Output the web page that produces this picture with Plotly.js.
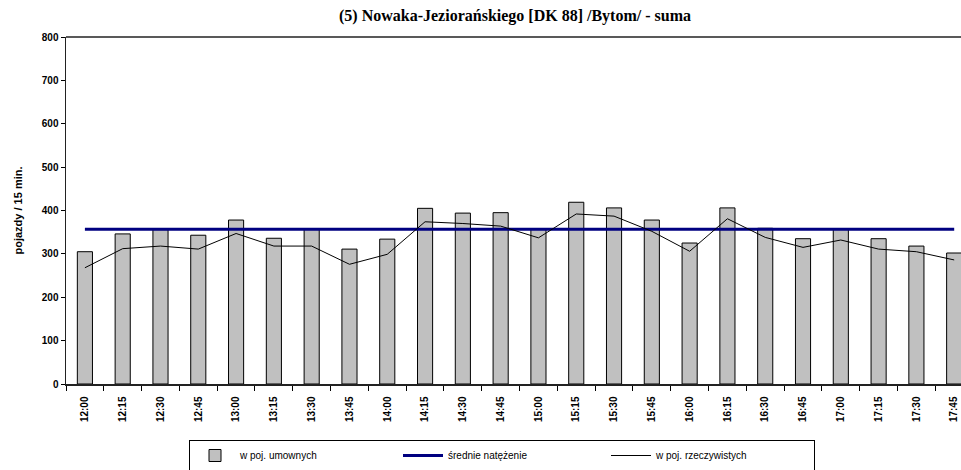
<!DOCTYPE html>
<html>
<head>
<meta charset="utf-8">
<script src="https://cdn.plot.ly/plotly-3.0.1.min.js"></script>
<style>html,body{margin:0;padding:0;background:#fff;}#chart{width:961px;height:470px;}</style>
</head>
<body>
<div id="chart"></div>
<script>
const categories = ["12:00","12:15","12:30","12:45","13:00","13:15","13:30","13:45","14:00","14:15","14:30","14:45","15:00","15:15","15:30","15:45","16:00","16:15","16:30","16:45","17:00","17:15","17:30","17:45"];
const umownych = [305,346,356,343,378,336,357,311,334,405,394,395,358,419,406,378,325,406,359,335,358,335,318,302];
const srednie = [357,357,357,357,357,357,357,357,357,357,357,357,357,357,357,357,357,357,357,357,357,357,357,357];
const rzeczywistych = [268,312,318,311,347,318,318,276,299,374,370,364,337,392,387,352,306,381,338,315,332,311,305,286];

const traces = [
  {type:'bar', x:categories, y:umownych, name:'w poj. umownych',
   marker:{color:'#c0c0c0', line:{color:'#000', width:1}}},
  {type:'scatter', mode:'lines', x:categories, y:srednie, name:'średnie natężenie',
   line:{color:'#000080', width:3}},
  {type:'scatter', mode:'lines', x:categories, y:rzeczywistych, name:'w poj. rzeczywistych',
   line:{color:'#000', width:1}}
];

const layout = {
  width:961, height:470,
  margin:{l:66, r:0, t:37, b:86},
  paper_bgcolor:'#fff', plot_bgcolor:'#fff',
  font:{family:'"Liberation Sans", Arial, sans-serif', color:'#000'},
  title:{text:'<b>(5) Nowaka-Jeziorańskiego [DK 88] /Bytom/ - suma</b>',
    font:{family:'"Liberation Serif", "Times New Roman", serif', size:16, color:'#000'},
    x:515/961, xanchor:'center', xref:'container', y:0.968, yanchor:'middle', yref:'container'},
  bargap:0.6,
  showlegend:true,
  shapes:[{type:'line', xref:'paper', yref:'paper', x0:0, x1:1, y0:1, y1:1,
    line:{color:'#222', width:1.5}}],
  xaxis:{type:'category', range:[-0.5, 23.18], tickangle:-90,
    tickfont:{size:10, family:'"Liberation Sans", Arial, sans-serif', weight:'bold'},
    ticks:'outside', ticklen:5, tickson:'boundaries', tickcolor:'#000', ticklabelstandoff:7,
    showline:true, linecolor:'#222', linewidth:1.5, showgrid:false, zeroline:false},
  yaxis:{range:[0,800], dtick:100, tickfont:{size:10, weight:'bold'},
    ticks:'outside', ticklen:4, tickcolor:'#000',
    showline:true, linecolor:'#222', linewidth:1.5, showgrid:false, zeroline:false,
    title:{text:'<b>pojazdy / 15 min.</b>', font:{size:11}, standoff:17}},
  legend:{orientation:'h', xref:'container', yref:'container', x:502/961, xanchor:'center',
    y:(470-440)/470, yanchor:'top', bordercolor:'#000', borderwidth:1,
    font:{size:10}, entrywidth:153, traceorder:'normal', itemwidth:40, tracegroupgap:0}
};

Plotly.newPlot('chart', traces, layout, {displayModeBar:false, staticPlot:true});
</script>
</body>
</html>
